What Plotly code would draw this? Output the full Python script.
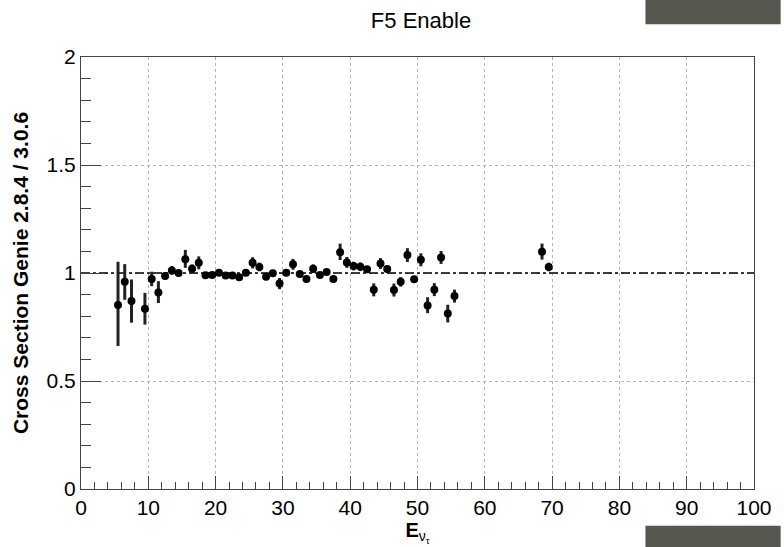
import plotly.graph_objects as go

# ---- data ----
energy = [5.5, 6.5, 7.5, 9.5, 10.5, 11.5, 12.5, 13.5, 14.5, 15.5, 16.5, 17.5, 18.5, 19.5,
          20.5, 21.5, 22.5, 23.5, 24.5, 25.5, 26.5, 27.5, 28.5, 29.5, 30.5, 31.5, 32.5,
          33.5, 34.5, 35.5, 36.5, 37.5, 38.5, 39.5, 40.5, 41.5, 42.5, 43.5, 44.5, 45.5,
          46.5, 47.5, 48.5, 49.5, 50.5, 51.5, 52.5, 53.5, 54.5, 55.5, 68.5, 69.5]
ratio = [0.852, 0.959, 0.870, 0.835, 0.972, 0.910, 0.986, 1.012, 1.000, 1.064, 1.020, 1.047,
         0.990, 0.991, 1.001, 0.988, 0.988, 0.980, 1.001, 1.047, 1.028, 0.983, 0.999, 0.951,
         1.001, 1.040, 0.995, 0.972, 1.020, 0.991, 1.005, 0.972, 1.096, 1.049, 1.032, 1.029,
         1.017, 0.922, 1.044, 1.018, 0.921, 0.959, 1.083, 0.971, 1.061, 0.850, 0.923, 1.072,
         0.812, 0.893, 1.098, 1.028]
err_up = [0.200, 0.082, 0.100, 0.073, 0.034, 0.052, 0.015, 0.020, 0.010, 0.043, 0.020, 0.030,
          0.012, 0.012, 0.012, 0.012, 0.012, 0.012, 0.012, 0.026, 0.020, 0.012, 0.012, 0.026,
          0.012, 0.025, 0.012, 0.015, 0.020, 0.012, 0.012, 0.015, 0.040, 0.025, 0.020, 0.020,
          0.015, 0.030, 0.025, 0.015, 0.030, 0.022, 0.032, 0.015, 0.030, 0.038, 0.030, 0.030,
          0.041, 0.030, 0.038, 0.020]
err_down = [0.190, 0.083, 0.100, 0.074, 0.033, 0.049, 0.015, 0.020, 0.010, 0.040, 0.020, 0.030,
            0.012, 0.012, 0.012, 0.012, 0.012, 0.012, 0.012, 0.026, 0.020, 0.012, 0.012, 0.026,
            0.012, 0.025, 0.012, 0.015, 0.020, 0.012, 0.012, 0.015, 0.036, 0.025, 0.020, 0.020,
            0.015, 0.030, 0.025, 0.015, 0.030, 0.022, 0.032, 0.015, 0.030, 0.036, 0.030, 0.030,
            0.041, 0.030, 0.036, 0.020]
ref_x = [0, 100]
ref_y = [1, 1]

W, H = 784, 547
L, R, T, B = 81, 763, 57, 493  # plot-area pixel edges

FONT = "Liberation Sans, Arial, Helvetica, sans-serif"

fig = go.Figure()
fig.add_trace(go.Scatter(x=ref_x, y=ref_y, mode="lines",
                         line=dict(color="black", width=1.5, dash="dashdot"),
                         hoverinfo="skip", showlegend=False))
fig.add_trace(go.Scatter(
    x=energy, y=ratio, mode="markers",
    marker=dict(color="black", size=8, symbol="circle"),
    error_y=dict(type="data", symmetric=False, array=err_up, arrayminus=err_down,
                 color="#222222", thickness=3, width=0),
    showlegend=False))

def px_x(p):
    return (p - L) / (R - L)

def px_y(p):
    return (B - p) / (B - T)

shapes = [
    dict(type="rect", xref="paper", yref="paper", x0=px_x(653), x1=px_x(790),
         y0=px_y(-5), y1=px_y(24), fillcolor="#56574f", line=dict(width=0), layer="above"),
    dict(type="rect", xref="paper", yref="paper", x0=px_x(653), x1=px_x(790),
         y0=px_y(530), y1=px_y(552), fillcolor="#56574f", line=dict(width=0), layer="above"),
]

axis_common = dict(
    showline=True, linecolor="#444444", linewidth=1, mirror=True,
    ticks="inside", tickcolor="#444444",
    showgrid=True, gridcolor="#b4b4b4", griddash="dot", gridwidth=1,
    zeroline=False,
    tickfont=dict(family=FONT, size=21, color="black"),
)

fig.update_layout(
    width=W, height=H, autosize=False,
    margin=dict(l=L, r=W - R, t=T, b=H - B, pad=0),
    paper_bgcolor="white", plot_bgcolor="white",
    title=dict(text="F5 Enable", x=421 / W, xanchor="center", y=1 - 20 / H, yanchor="middle",
               font=dict(family=FONT, size=22, color="black")),
    xaxis=dict(range=[0, 100], dtick=10, tick0=0, ticklen=13,
               minor=dict(dtick=2, ticks="inside", ticklen=7, tickcolor="#444444", showgrid=False),
               title=dict(text="<b>E</b><sub>ν<sub>τ</sub></sub>", standoff=2,
                          font=dict(family=FONT, size=20, color="black")),
               **axis_common),
    yaxis=dict(range=[0, 2], dtick=0.5, tick0=0, ticklen=20,
               minor=dict(dtick=0.1, ticks="inside", ticklen=10, tickcolor="#444444", showgrid=False),
               title=dict(text="<b>Cross Section Genie 2.8.4 / 3.0.6</b>", standoff=12,
                          font=dict(family=FONT, size=21, color="black")),
               **axis_common),
    shapes=shapes,
)

fig.write_html("out.html")
